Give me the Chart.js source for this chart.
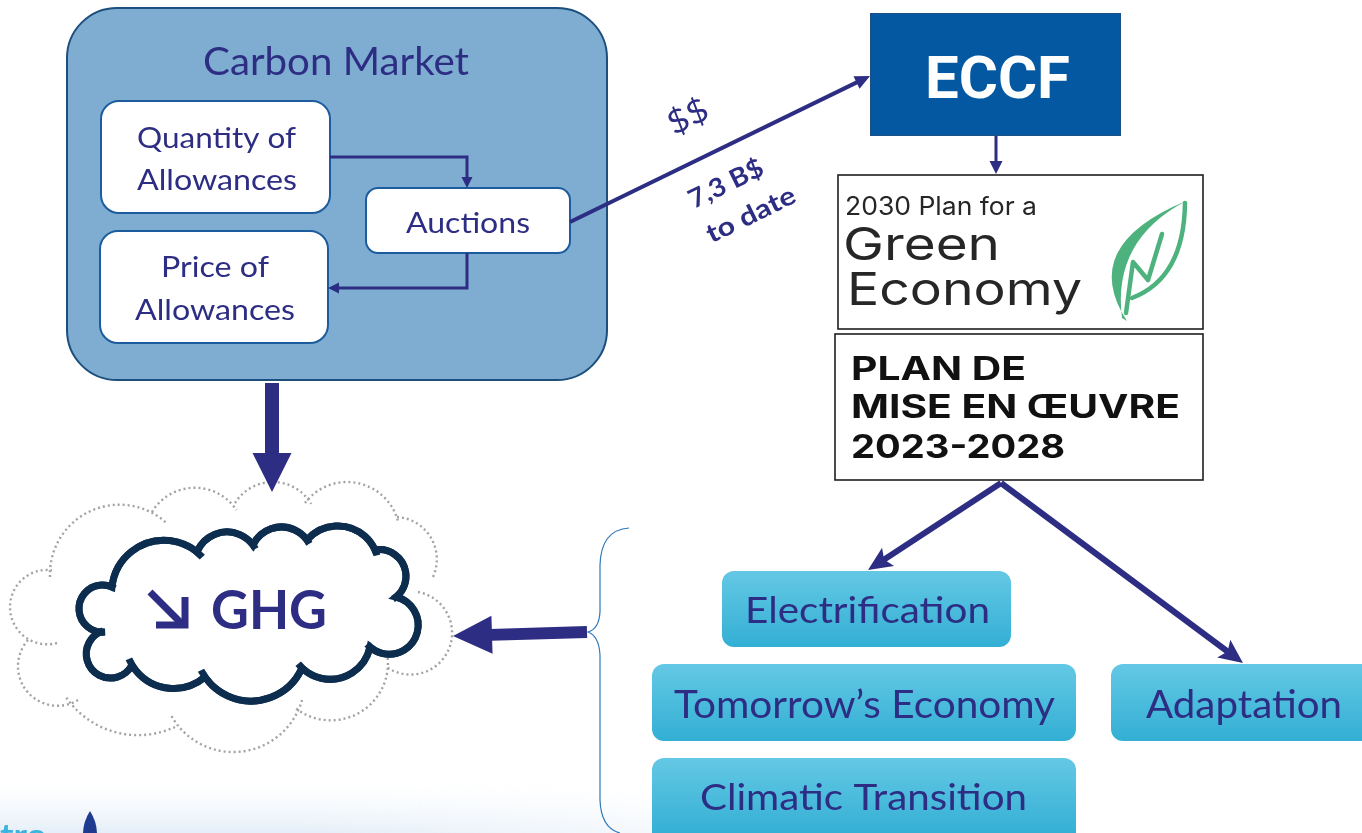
<!DOCTYPE html>
<html><head><meta charset="utf-8">
<script src="https://cdn.jsdelivr.net/npm/chart.js@4.4.1/dist/chart.umd.min.js"></script>
<style>html,body{margin:0;padding:0;background:#fff;overflow:hidden}#wrap{width:1362px;height:833px;position:relative}</style>
</head><body><div id="wrap"><canvas id="c"></canvas></div>
<script>
// ---------- data: the text content of the diagram ----------
const marketTitle = ["Carbon Market"];
const marketSteps = ["Quantity of", "Allowances", "Auctions", "Price of", "Allowances"];
const fundName = ["ECCF"];
const fundingLabels = ["$$", "7,3 B$", "to date"];
const greenPlan = ["2030 Plan for a", "Green", "Economy"];
const actionPlan = ["PLAN DE", "MISE EN ŒUVRE", "2023-2028"];
const programs = ["Electrification", "Tomorrow’s Economy", "Climatic Transition", "Adaptation"];
const outcome = ["GHG"];
const footerText = ["tre"];

// ---------- layout (diagram units, mapped through the chart scales) ----------
const INDIGO = '#2d2e83';
const LAYOUT = {
  market: {x0:67,y0:8,x1:607,y1:380,r:50},
  steps: [{x0:101,y0:101,x1:330,y1:213,r:18},{x0:366,y0:188,x1:570,y1:253,r:12},{x0:100,y0:231,x1:328,y1:343,r:18}],
  eccf: {x0:870,y0:13,x1:1121,y1:136},
  green: {x0:838,y0:175,x1:1203,y1:329},
  plan: {x0:835,y0:334,x1:1203,y1:480},
  progBoxes: [{x0:722,y0:571,x1:1011,y1:647},{x0:652,y0:664,x1:1076,y1:741},{x0:652,y0:758,x1:1076,y1:850},{x0:1111,y0:664,x1:1380,y1:741}],
  // [left, baseline, size, width]
  titleText: [203,75,39,266],
  stepText: [[137,148,29,159],[137,190,29,160],[406,233,28,124],[161,277,29,108],[135,320,29,160]],
  eccfText: [925,98,60,145],
  greenText: [[845,215,25,192],[843,260,45,157],[847,305,45,235]],
  planText: [[851,380,32,175],[851,418,32,329],[851,458,32,214]],
  progText: [[745,623,36,245],[674,718,38,381],[700,810,37,327],[1146,718,38,196]],
  ghgText: [211,629,53,116],
  // rotated labels: [cx, cy, size, width, weight]
  fundText: [[688,117,32,42,400],[726,184,26,80,700],[751,215,26,96,700]],
  connectors: [
    {pts:[[330,157],[467,157],[467,188]], w:3, hl:11, hw:11},
    {pts:[[467,253],[467,288],[328,288]], w:3, hl:11, hw:11},
    {pts:[[570,222],[870,76]], w:4, hl:15, hw:14},
    {pts:[[996,136],[996,174]], w:3, hl:13, hw:13},
    {pts:[[1001,483],[868,570]], w:6, hl:24, hw:22},
    {pts:[[1001,483],[1243,663]], w:6, hl:24, hw:22},
    {pts:[[272,383],[272,492]], w:14, hl:39, hw:39},
    {pts:[[587,632],[453,636]], w:12, hl:39, hw:38}
  ],
  darkCloud: [
    [[105,632],[79,608],[112,587]],
    [[112,587],[155,541],[197,552]],
    [[197,552],[225,532],[253,545]],
    [[253,545],[283,527],[307,540]],
    [[307,540],[340,526],[375,550]],
    [[375,550],[406,577],[396,597]],
    [[396,597],[415,612],[370,647]],
    [[370,647],[335,679],[302,668]],
    [[302,668],[253,701],[205,677]],
    [[205,677],[167,688],[132,665]],
    [[132,665],[87,648],[100,632]]
  ],
  ghostCloud: [
    [[50,577],[113,505],[163,520]],
    [[152,512],[200,488],[235,508]],
    [[235,503],[273,482],[310,502]],
    [[305,503],[348,482],[397,518]],
    [[397,517],[435,547],[433,577]],
    [[418,592],[447,613],[388,668]],
    [[387,653],[347,718],[298,710]],
    [[302,700],[233,752],[172,717]],
    [[175,727],[133,735],[68,700]],
    [[78,700],[18,667],[28,640]],
    [[57,643],[10,607],[50,570]]
  ]
};

// ---------- helpers ----------
function rr(ctx, x0, y0, x1, y1, r){
  ctx.beginPath();
  ctx.moveTo(x0+r,y0); ctx.lineTo(x1-r,y0); ctx.arcTo(x1,y0,x1,y0+r,r);
  ctx.lineTo(x1,y1-r); ctx.arcTo(x1,y1,x1-r,y1,r);
  ctx.lineTo(x0+r,y1); ctx.arcTo(x0,y1,x0,y1-r,r);
  ctx.lineTo(x0,y0+r); ctx.arcTo(x0,y0,x0+r,y0,r); ctx.closePath();
}
function txt(ctx, s, left, base, size, w, family, weight, color){
  ctx.save(); ctx.font = weight+' '+size+'px '+family; ctx.fillStyle=color;
  ctx.textAlign='left'; ctx.textBaseline='alphabetic';
  const m = ctx.measureText(s).width;
  ctx.translate(left, base); ctx.scale(w/m, 1); ctx.fillText(s,0,0); ctx.restore();
}
function rtxt(ctx, s, cx, cy, size, w, family, weight, color, ang){
  ctx.save(); ctx.font = weight+' '+size+'px '+family; ctx.fillStyle=color;
  ctx.textAlign='center'; ctx.textBaseline='middle';
  const m = ctx.measureText(s).width;
  ctx.translate(cx, cy); ctx.rotate(ang); ctx.scale(w/m, 1); ctx.fillText(s,0,0); ctx.restore();
}
function circle3(a,b,c){
  const d = 2*(a[0]*(b[1]-c[1])+b[0]*(c[1]-a[1])+c[0]*(a[1]-b[1]));
  const A=a[0]*a[0]+a[1]*a[1], B=b[0]*b[0]+b[1]*b[1], C=c[0]*c[0]+c[1]*c[1];
  const ux=(A*(b[1]-c[1])+B*(c[1]-a[1])+C*(a[1]-b[1]))/d;
  const uy=(A*(c[0]-b[0])+B*(a[0]-c[0])+C*(b[0]-a[0]))/d;
  return [ux,uy,Math.hypot(a[0]-ux,a[1]-uy)];
}
function norm(a){ const t=Math.PI*2; return ((a%t)+t)%t; }
function bumpArc(ctx, p0, m, p2, ext0, ext1){
  const [ux,uy,r] = circle3(p0,m,p2);
  const a0=Math.atan2(p0[1]-uy,p0[0]-ux), am=Math.atan2(m[1]-uy,m[0]-ux), a2=Math.atan2(p2[1]-uy,p2[0]-ux);
  const cw = norm(am-a0) < norm(a2-a0);
  const s = cw ? 1 : -1;
  ctx.arc(ux,uy,r,a0 - s*ext0, a2 + s*ext1, !cw);
}

// ---------- build connector datasets from the layout ----------
function headBase(c){
  const n=c.pts.length, t=c.pts[n-1], p=c.pts[n-2];
  const dx=t[0]-p[0], dy=t[1]-p[1], L=Math.hypot(dx,dy);
  return [t[0]-dx/L*c.hl*0.75, t[1]-dy/L*c.hl*0.75];
}
const datasets = LAYOUT.connectors.map(c => {
  const pts = c.pts.slice(0,-1).concat([headBase(c)]);
  return {
    data: pts.map(p=>({x:p[0],y:p[1]})),
    showLine:true, borderColor:INDIGO, backgroundColor:INDIGO, borderWidth:c.w,
    pointRadius:0, borderCapStyle:'butt', borderJoinStyle:'miter', tension:0, clip:false
  };
});

const diagram = {
  id:'diagram',
  beforeDatasetsDraw(chart){
    const ctx = chart.ctx, sx = chart.scales.x, sy = chart.scales.y;
    const X = v=>sx.getPixelForValue(v), Y = v=>sy.getPixelForValue(v);
    const P = p=>[X(p[0]),Y(p[1])];
    const B = b=>({x0:X(b.x0),y0:Y(b.y0),x1:X(b.x1),y1:Y(b.y1),r:b.r||0});
    ctx.save();
    // footer strip (fades out to the right)
    let g = ctx.createLinearGradient(0,Y(784),0,Y(833));
    g.addColorStop(0,'rgba(240,246,252,0)'); g.addColorStop(1,'rgba(228,238,248,1)');
    ctx.fillStyle=g; ctx.fillRect(X(0),Y(784),X(1362)-X(0),Y(833)-Y(784));
    ctx.globalCompositeOperation='destination-out';
    let gh = ctx.createLinearGradient(X(300),0,X(900),0);
    gh.addColorStop(0,'rgba(0,0,0,0)'); gh.addColorStop(1,'rgba(0,0,0,1)');
    ctx.fillStyle=gh; ctx.fillRect(X(0),Y(784),X(1362)-X(0),Y(833)-Y(784));
    ctx.globalCompositeOperation='source-over';

    // carbon market box
    let b = B(LAYOUT.market);
    rr(ctx,b.x0,b.y0,b.x1,b.y1,b.r); ctx.fillStyle='#7eadd1'; ctx.fill();
    ctx.lineWidth=2; ctx.strokeStyle='#1d4f7e'; ctx.stroke();
    LAYOUT.steps.forEach(s=>{ const q=B(s); rr(ctx,q.x0,q.y0,q.x1,q.y1,q.r); ctx.fillStyle='#fff'; ctx.fill(); ctx.lineWidth=2; ctx.strokeStyle='#1c5c9e'; ctx.stroke(); });

    // ECCF
    b = B(LAYOUT.eccf); ctx.fillStyle='#0358a1'; ctx.fillRect(b.x0,b.y0,b.x1-b.x0,b.y1-b.y0);
    ctx.lineWidth=1; ctx.strokeStyle='#1b4f86'; ctx.strokeRect(b.x0+0.5,b.y0+0.5,b.x1-b.x0-1,b.y1-b.y0-1);

    // plan boxes
    [LAYOUT.green, LAYOUT.plan].forEach(s=>{ const q=B(s); ctx.fillStyle='#fff'; ctx.fillRect(q.x0,q.y0,q.x1-q.x0,q.y1-q.y0); ctx.lineWidth=1.6; ctx.strokeStyle='#1e1e1e'; ctx.strokeRect(q.x0,q.y0,q.x1-q.x0,q.y1-q.y0); });

    // leaf logo
    ctx.fillStyle='#4db27d'; ctx.strokeStyle='#4db27d';
    ctx.beginPath(); ctx.moveTo(X(1127),Y(321)); ctx.quadraticCurveTo(X(1078),Y(246),X(1186),Y(201));
    ctx.quadraticCurveTo(X(1112),Y(240),X(1122),Y(318)); ctx.closePath(); ctx.fill();
    ctx.lineWidth=4.5; ctx.lineJoin='round'; ctx.lineCap='round';
    ctx.beginPath(); ctx.moveTo(X(1185),Y(203)); ctx.quadraticCurveTo(X(1184),Y(278),X(1132),Y(298)); ctx.stroke();
    ctx.beginPath(); ctx.moveTo(X(1126),Y(313)); ctx.lineTo(X(1133),Y(262)); ctx.lineTo(X(1148),Y(280)); ctx.lineTo(X(1162),Y(234)); ctx.stroke();

    // program boxes
    LAYOUT.progBoxes.forEach(s=>{ const q=B(s);
      const gr=ctx.createLinearGradient(0,q.y0,0,Math.min(q.y1,Y(s.y0+78)));
      gr.addColorStop(0,'#64c8e5'); gr.addColorStop(1,'#33afd4');
      rr(ctx,q.x0,q.y0,q.x1,q.y1,12); ctx.fillStyle=gr; ctx.fill(); });

    // brace
    ctx.lineCap='butt'; ctx.lineJoin='miter';
    ctx.beginPath(); ctx.moveTo(X(629),Y(528)); ctx.quadraticCurveTo(X(601),Y(530),X(600),Y(565));
    ctx.lineTo(X(600),Y(612)); ctx.quadraticCurveTo(X(599),Y(629),X(588),Y(632));
    ctx.quadraticCurveTo(X(599),Y(636),X(600),Y(655)); ctx.lineTo(X(600),Y(800));
    ctx.quadraticCurveTo(X(601),Y(828),X(620),Y(833));
    ctx.lineWidth=1.2; ctx.strokeStyle='#2f78b8'; ctx.stroke();

    // ghost (dotted) cloud
    ctx.setLineDash([2,3]); ctx.lineWidth=2.4; ctx.strokeStyle='#a3a3a3';
    LAYOUT.ghostCloud.forEach(bp=>{ ctx.beginPath(); bumpArc(ctx,P(bp[0]),P(bp[1]),P(bp[2]),0,0.05); ctx.stroke(); });
    ctx.setLineDash([]);

    // dark cloud
    ctx.beginPath();
    LAYOUT.darkCloud.forEach(bp=>bumpArc(ctx,P(bp[0]),P(bp[1]),P(bp[2]),0,0));
    ctx.closePath(); ctx.fillStyle='#fff'; ctx.fill();
    ctx.lineWidth=7; ctx.strokeStyle='#0d2d4f'; ctx.stroke();
    LAYOUT.darkCloud.forEach(bp=>{ ctx.beginPath(); bumpArc(ctx,P(bp[0]),P(bp[1]),P(bp[2]),-0.02,0.14); ctx.stroke(); });

    // footer marks
    ctx.fillStyle='#1f3b8f'; ctx.beginPath(); ctx.moveTo(X(90),Y(811)); ctx.quadraticCurveTo(X(97),Y(822),X(97),Y(834));
    ctx.lineTo(X(83),Y(834)); ctx.quadraticCurveTo(X(83),Y(822),X(90),Y(811)); ctx.fill();
    ctx.restore();
  },
  afterDatasetsDraw(chart){
    const ctx = chart.ctx, sx = chart.scales.x, sy = chart.scales.y;
    const X = v=>sx.getPixelForValue(v), Y = v=>sy.getPixelForValue(v);
    ctx.save();
    // arrow heads
    LAYOUT.connectors.forEach(c=>{
      const n=c.pts.length, t=c.pts[n-1], p=c.pts[n-2];
      const dx=t[0]-p[0], dy=t[1]-p[1], L=Math.hypot(dx,dy), ux=dx/L, uy=dy/L;
      const bx=t[0]-ux*c.hl, by=t[1]-uy*c.hl, nx=-uy*c.hw/2, ny=ux*c.hw/2;
      const notch = c.w>=6 && c.w<10 ? 0.2 : 0;
      ctx.beginPath(); ctx.moveTo(X(t[0]),Y(t[1])); ctx.lineTo(X(bx+nx),Y(by+ny));
      ctx.lineTo(X(t[0]-ux*c.hl*(1-notch)),Y(t[1]-uy*c.hl*(1-notch)));
      ctx.lineTo(X(bx-nx),Y(by-ny)); ctx.closePath(); ctx.fillStyle=INDIGO; ctx.fill();
    });

    // texts
    const CAL = 'Lato, "Open Sans", sans-serif';
    let t = LAYOUT.titleText; txt(ctx, marketTitle[0], X(t[0]), Y(t[1]), t[2], t[3], CAL, 400, INDIGO);
    LAYOUT.stepText.forEach((t,i)=>txt(ctx, marketSteps[i], X(t[0]), Y(t[1]), t[2], t[3], CAL, 400, INDIGO));
    t = LAYOUT.eccfText; txt(ctx, fundName[0], X(t[0]), Y(t[1]), t[2], t[3], 'Roboto, sans-serif', 700, '#ffffff');
    LAYOUT.greenText.forEach((t,i)=>txt(ctx, greenPlan[i], X(t[0]), Y(t[1]), t[2], t[3], 'Inter, sans-serif', 400, '#262626'));
    LAYOUT.planText.forEach((t,i)=>txt(ctx, actionPlan[i], X(t[0]), Y(t[1]), t[2], t[3], 'Inter, "Noto Sans", sans-serif', 700, '#111111'));
    LAYOUT.progText.forEach((t,i)=>txt(ctx, programs[i], X(t[0]), Y(t[1]), t[2], t[3], CAL, 400, INDIGO));
    const ang = -26*Math.PI/180;
    LAYOUT.fundText.forEach((t,i)=>rtxt(ctx, fundingLabels[i], X(t[0]), Y(t[1]), t[2], t[3], CAL, t[4], INDIGO, ang));
    t = LAYOUT.ghgText; txt(ctx, outcome[0], X(t[0]), Y(t[1]), t[2], t[3], CAL, 700, INDIGO);
    // "decrease" arrow glyph before GHG
    ctx.strokeStyle=INDIGO; ctx.lineWidth=7; ctx.lineCap='butt'; ctx.lineJoin='miter';
    ctx.beginPath(); ctx.moveTo(X(150),Y(592)); ctx.lineTo(X(181),Y(623)); ctx.stroke();
    ctx.beginPath(); ctx.moveTo(X(156),Y(625)); ctx.lineTo(X(185),Y(625)); ctx.lineTo(X(185),Y(597)); ctx.stroke();
    // footer partial word
    txt(ctx, footerText[0], X(0), Y(846), 30, 46, CAL, 700, '#3ab4de');
    ctx.restore();
  }
};

new Chart(document.getElementById('c'), {
  type:'scatter',
  data:{datasets},
  options:{
    responsive:true, maintainAspectRatio:false, animation:false, events:[],
    layout:{padding:0},
    plugins:{legend:{display:false}, tooltip:{enabled:false}},
    scales:{
      x:{type:'linear',min:0,max:1362,display:false},
      y:{type:'linear',min:0,max:833,reverse:true,display:false}
    }
  },
  plugins:[diagram]
});
</script></body></html>
